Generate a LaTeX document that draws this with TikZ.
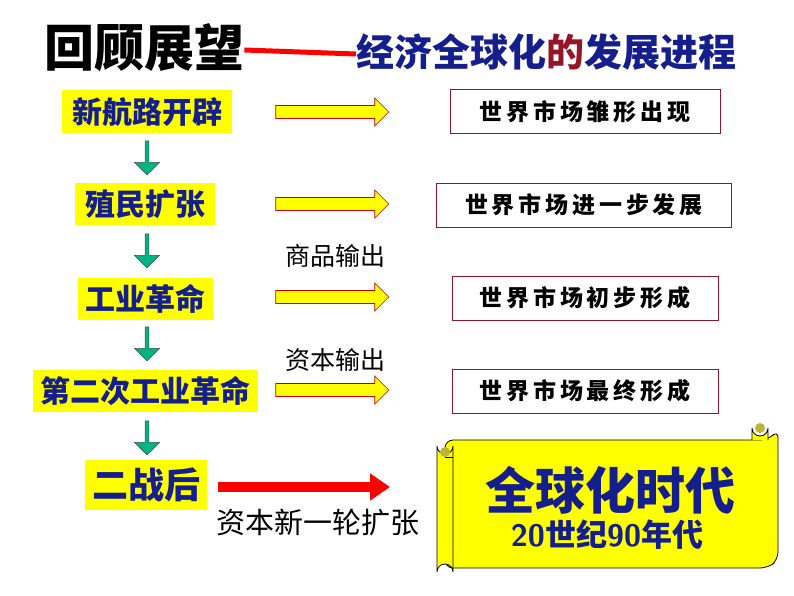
\documentclass[tikz,border=0pt]{standalone}
\usepackage{fontspec}
\newfontfamily\cjk{Noto Sans CJK SC}
\usetikzlibrary{shapes.arrows,arrows.meta}
\definecolor{navy}{RGB}{20,30,140}
\definecolor{dred}{RGB}{150,20,40}
\definecolor{ylw}{RGB}{255,255,0}
\definecolor{teal2}{RGB}{0,180,130}
\tikzset{
 lbox/.style={fill=ylw,inner sep=0pt,font=\cjk\bfseries\fontsize{30}{30}\selectfont,text=navy},
 rbox/.style={draw=dred,line width=1pt,fill=white,inner sep=0pt,font=\cjk\bfseries\fontsize{23}{23}\selectfont},
 yarrow/.style={single arrow,draw=red!80!black,fill=ylw,minimum width=28pt,single arrow head extend=5pt,single arrow head indent=0pt,minimum height=113pt,inner sep=4pt,line width=0.6pt},
 garrow/.style={single arrow,shape border rotate=270,draw=black!70,fill=teal2,minimum width=25pt,single arrow head extend=7pt,minimum height=34pt,inner sep=1pt,line width=0.5pt},
 lab/.style={font=\cjk\fontsize{25}{25}\selectfont}
}
\begin{document}
\begin{tikzpicture}[x=1pt,y=-1pt]
\useasboundingbox (0,0) rectangle (794,596);
\node[anchor=west,font=\cjk\bfseries\fontsize{50}{50}\selectfont,inner sep=0pt] (t1) at (44,48) {回顾展望};
\node[anchor=west,font=\cjk\bfseries\fontsize{38}{38}\selectfont,text=navy,inner sep=0pt] (t2) at (356,52) {经济全球化\textcolor{dred}{的}发展进程};
\draw[red,line width=5pt] ([yshift=-2pt]t1.east) -- ([yshift=-2pt]t2.west);
% left boxes
\node[lbox,minimum width=170pt,minimum height=43pt] (a1) at (147,112) {新航路开辟};
\node[lbox,minimum width=140pt,minimum height=42pt] (a2) at (145,204) {殖民扩张};
\node[lbox,minimum width=135pt,minimum height=42pt] (a3) at (145,299) {工业革命};
\node[lbox,minimum width=225pt,minimum height=42pt] (a4) at (145,391) {第二次工业革命};
\node[lbox,minimum width=122pt,minimum height=50pt,font=\cjk\bfseries\fontsize{36}{36}\selectfont] (a5) at (146,485) {二战后};
% green arrows
\node[garrow] (g1) at (147,157) {};
\node[garrow] (g2) at (147,250) {};
\node[garrow] (g3) at (147,343) {};
\node[garrow] (g4) at (147,437) {};
% right boxes
\node[rbox,minimum width=270pt,minimum height=44pt] (b1) at (585,112) {世\,界\,市\,场\,雏\,形\,出\,现};
\node[rbox,minimum width=295pt,minimum height=44pt] (b2) at (584,205) {世\,界\,市\,场\,进\,一\,步\,发\,展};
\node[rbox,minimum width=266pt,minimum height=44pt] (b3) at (585,298) {世\,界\,市\,场\,初\,步\,形\,成};
\node[rbox,minimum width=266pt,minimum height=44pt] (b4) at (585,391) {世\,界\,市\,场\,最\,终\,形\,成};
% yellow arrows
\node[yarrow] (y1) at (329,112) {};
\node[yarrow] (y2) at (329,204) {};
\node[yarrow] (y3) at (329,297) {};
\node[yarrow] (y4) at (329,390) {};
\node[lab] (l1) at (335,256) {商品输出};
\node[lab] (l2) at (335,360) {资本输出};
% scroll
\draw[black,line width=0.8pt,fill=ylw,rounded corners=8pt]
 (445,440) -- (768,440) -- (778,430) -- (778,560) -- (768,568) -- (445,568) -- cycle;
\draw[black,line width=0.8pt,fill=ylw] (752,440) -- (752,428) arc (180:0:8) -- (768,440);
\fill[yellow!70!black] (760,428) circle (5);
\draw[black,line width=0.8pt,fill=ylw] (437,446) arc (180:0:8) -- (453,572) arc (0:-180:8) -- cycle;
\fill[yellow!70!black] (445,452) circle (5);
\draw[black,line width=0.6pt] (445,457) -- (453,457);
\node[font=\cjk\bfseries\fontsize{50}{50}\selectfont,text=navy] (s1) at (610,490) {全球化时代};
\node[font=\cjk\bfseries\fontsize{31}{31}\selectfont,text=navy] (s2) at (607,535) {\textsf{\bfseries 20}世纪\textsf{\bfseries 90}年代};
% red arrow
\coordinate (rs) at (218,487);
\coordinate (re) at (390,487);
\draw[red,line width=10pt,-{Triangle[length=20pt,width=26pt]}] (rs) -- (re);
\node[lab,font=\cjk\fontsize{29}{29}\selectfont] (l3) at (318,522) {资本新一轮扩张};
\end{tikzpicture}
\end{document}
